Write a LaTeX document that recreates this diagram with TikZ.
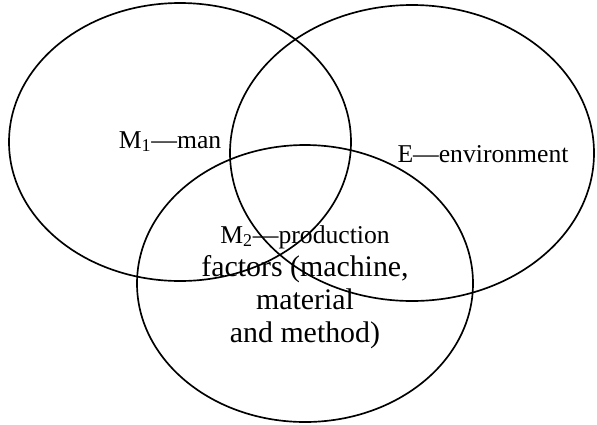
\documentclass[tikz,border=0pt]{standalone}
\usepackage{fontspec}
\setmainfont{Liberation Serif}
\usetikzlibrary{positioning}
\tikzstyle{set} = [draw=black, line width=0.95pt]
\tikzstyle{smalltext} = [font=\fontsize{14.6}{18.6}\selectfont, inner sep=0pt]
\tikzstyle{bigtext} = [font=\fontsize{17}{18.8}\selectfont, align=center, inner sep=0pt]

\begin{document}
\begin{tikzpicture}[x=0.02cm, y=0.02cm]
  \useasboundingbox (0,0) rectangle (597,424);
  % the three sets
  \draw[set] (180,282) ellipse [x radius=171, y radius=139];
  \draw[set] (412,271) ellipse [x radius=182, y radius=148];
  \draw[set] (305,140.5) ellipse [x radius=168, y radius=138.5];
  % labels
  \node[smalltext, anchor=base] (man) at (170,276) {M\textsubscript{1}—man};
  \node[smalltext, anchor=base] (env) at (483,262) {E—environment};
  \node[bigtext] (prod) at (305,137) {{\fontsize{14.6}{18.8}\selectfont M\textsubscript{2}—production}\\factors (machine,\\material\\and method)};
\end{tikzpicture}
\end{document}
